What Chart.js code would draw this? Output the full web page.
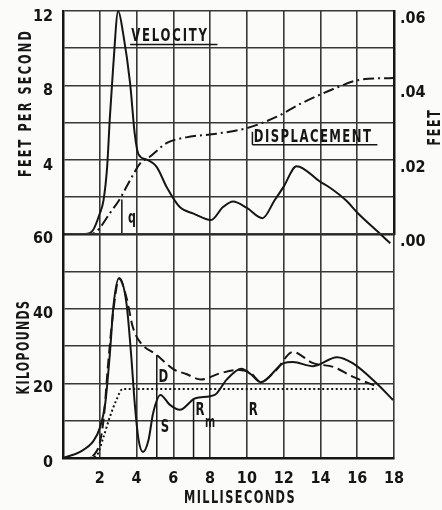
<!DOCTYPE html>
<html>
<head>
<meta charset="utf-8">
<script src="https://cdn.jsdelivr.net/npm/chart.js@4.4.1/dist/chart.umd.min.js"></script>
<style>
  html, body { margin: 0; padding: 0; background: #fbfbfa; }
  #wrap { position: relative; width: 442px; height: 510px; }
  canvas { position: absolute; left: 0; top: 0; }
</style>
</head>
<body>
<div id="wrap">
  <canvas id="topChart" width="442" height="510"></canvas>
  <canvas id="bottomChart" width="442" height="510"></canvas>
</div>
<script>
// top panel: velocity (ft/s) and displacement (ft) vs time (ms)
let velMs  = [0, 1.2, 1.63, 2.0, 2.2, 2.4, 2.55, 2.73, 3.0, 3.27, 3.65, 3.9, 4.1, 4.55, 5.1, 5.65, 6.35, 7.1, 8.05, 8.7, 9.25, 10.0, 10.85, 11.5, 12.0, 12.7, 14.0, 14.5, 15.4, 16.05, 17.2, 17.8];
let velFps = [0, 0, 0.2, 1.1, 1.8, 3.6, 6.3, 9.0, 12.0, 10.8, 8.1, 5.4, 4.3, 4.0, 3.6, 2.5, 1.45, 1.1, 0.75, 1.45, 1.75, 1.4, 0.85, 1.8, 2.55, 3.65, 2.8, 2.5, 1.8, 1.1, 0.05, -0.5];

let dispMs = [0, 1.5, 1.85, 2.55, 3.1, 3.65, 4.2, 4.7, 5.65, 6.7, 8.35, 10.0, 11.6, 12.9, 14.7, 16.15, 17.95];
let dispFt = [0, 0, 0.0008, 0.0056, 0.0095, 0.0145, 0.019, 0.0207, 0.0245, 0.026, 0.027, 0.0285, 0.0315, 0.035, 0.039, 0.0415, 0.042];

let qMs  = [3.2, 3.2];
let qFps = [0, 1.85];

// bottom panel: forces in kilopounds
let sMs  = [0, 0.9, 1.65, 2.0, 2.3, 2.55, 2.75, 3.05, 3.45, 3.7, 3.9, 4.1, 4.35, 4.65, 4.9, 5.3, 5.8, 6.35, 7.2, 8.25, 8.9, 9.7, 10.2, 10.75, 12.0, 12.5, 13.6, 14.9, 15.75, 17.05, 17.95];
let sKip = [0, 1.6, 4.5, 8.0, 14.7, 28, 41, 48.2, 41.5, 28, 14.7, 5.2, 1.6, 4.8, 12, 16.9, 14.3, 12.9, 16.0, 16.9, 21, 23.9, 22.5, 20.3, 25.4, 25.7, 24.6, 27, 25.4, 20, 15.5];

let dMs  = [0, 1.2, 1.85, 2.2, 2.45, 2.75, 3.05, 3.45, 3.8, 4.2, 5.1, 6.0, 6.7, 7.5, 8.55, 9.6, 10.2, 10.75, 11.6, 12.5, 13.6, 14.7, 15.75, 17.05];
let dKip = [0, 0, 2, 10, 25, 40, 48, 43, 35, 31, 27.6, 23.8, 22.5, 21, 22.7, 23.6, 22.8, 20.4, 23.6, 28.4, 25.4, 24.4, 21.8, 19.2];

let rMs  = [1.45, 1.85, 2.2, 2.55, 2.9, 3.25, 17.05];
let rKip = [0, 0.8, 5.6, 11, 15.5, 18.5, 18.5];

let markD  = [[5.1, 0], [5.1, 27.6]];
let markRm = [[7.1, 0], [7.1, 16]];

let xTicks = [2, 4, 6, 8, 10, 12, 14, 16, 18];

let font = "'Liberation Sans Narrow', 'DejaVu Sans Condensed', sans-serif";
Chart.defaults.font.family = font;
Chart.defaults.font.weight = 'bold';
Chart.defaults.font.size = 16;
Chart.defaults.color = '#151515';

let ink = '#161616';
let gridStyle = { color: '#383838', lineWidth: 1.6, drawTicks: false };
let borderStyle = { color: ink, width: 2.5 };
// invisible tick marks act as the gap between axis and labels
let leftGrid = { color: '#383838', lineWidth: 1.6, drawTicks: true, tickLength: 10, tickColor: 'rgba(0,0,0,0)' };

function pts(xs, ys) { return xs.map((x, i) => ({ x: x, y: ys[i] })); }
function pairs(p) { return p.map(v => ({ x: v[0], y: v[1] })); }

function curve(label, data, axis, dash, width) {
  return {
    label: label, data: data, yAxisID: axis,
    borderColor: ink, borderWidth: width || 2, borderDash: dash || [],
    pointRadius: 0, fill: false, cubicInterpolationMode: 'monotone', clip: 12
  };
}

function drawText(ctx, t, px, py) {
  ctx.save();
  ctx.font = 'bold ' + (t.size || 18) + 'px ' + font;
  ctx.letterSpacing = (t.spacing || 0) + 'px';
  ctx.translate(px, py);
  if (t.rot) ctx.rotate(-Math.PI / 2);
  ctx.scale(t.squeeze || 0.72, 1);
  ctx.fillText(t.text, 0, 0);
  ctx.restore();
}

// text and underline notes, placed in data units of the chart's scales
function notesPlugin(notes, rules, titles) {
  return {
    id: 'notes',
    afterDatasetsDraw(chart) {
      let ctx = chart.ctx, sx = chart.scales.x, sy = chart.scales.y;
      ctx.save();
      ctx.fillStyle = ink;
      ctx.strokeStyle = ink;
      ctx.textAlign = 'center';
      ctx.textBaseline = 'middle';
      notes.forEach(n => drawText(ctx, n, sx.getPixelForValue(n.x), sy.getPixelForValue(n.y)));
      ctx.lineWidth = 1.5;
      rules.forEach(r => {
        ctx.beginPath();
        ctx.moveTo(sx.getPixelForValue(r[0][0]), sy.getPixelForValue(r[0][1]));
        ctx.lineTo(sx.getPixelForValue(r[1][0]), sy.getPixelForValue(r[1][1]));
        ctx.stroke();
      });
      titles.forEach(t => drawText(ctx, t, t.px, t.py));
      ctx.restore();
    }
  };
}

let topNotes = [
  { text: 'VELOCITY', x: 5.82, y: 10.66, spacing: 2.5 },
  { text: 'DISPLACEMENT', x: 13.6, y: 5.2, spacing: 2 },
  { text: 'q', x: 3.75, y: 0.85, size: 17 }
];
let topRules = [
  [[3.65, 10.2], [8.4, 10.2]],
  [[10.3, 4.8], [17.1, 4.8]],
  [[10.3, 4.8], [10.3, 5.5]]
];
let topTitles = [
  { text: 'FEET PER SECOND', px: 26, py: 103, rot: true, spacing: 3, squeeze: 0.7 },
  { text: 'FEET', px: 435, py: 127, rot: true, spacing: 2.5, squeeze: 0.68 }
];

let bottomNotes = [
  { text: 'D', x: 5.45, y: 21.7 },
  { text: 'S', x: 5.55, y: 8.3 },
  { text: 'R', x: 7.45, y: 12.9 },
  { text: 'm', x: 8.0, y: 9.4, size: 15 },
  { text: 'R', x: 10.35, y: 12.9 }
];
let bottomTitles = [
  { text: 'KILOPOUNDS', px: 24, py: 347, rot: true, spacing: 2, squeeze: 0.68 },
  { text: 'MILLISECONDS', px: 240, py: 498, spacing: 2, squeeze: 0.7 }
];

new Chart(document.getElementById('topChart'), {
  type: 'line',
  data: {
    datasets: [
      curve('Velocity', pts(velMs, velFps), 'y'),
      curve('Displacement', pts(dispMs, dispFt), 'yFeet', [11, 4, 2, 4]),
      curve('q', pts(qMs, qFps), 'y', [], 1.5)
    ]
  },
  options: {
    responsive: false,
    animation: false,
    layout: { padding: { top: 11, bottom: 276, left: 0, right: 0 } },
    plugins: { legend: { display: false }, tooltip: { enabled: false } },
    scales: {
      x: {
        type: 'linear', min: 0, max: 18,
        ticks: { stepSize: 2, display: false },
        grid: gridStyle, border: borderStyle,
        afterFit: s => { s.height = 0; }
      },
      y: {
        position: 'left', min: 0, max: 12,
        ticks: { stepSize: 2, padding: 0, labelOffset: 6, callback: v => (v > 0 && v % 4 === 0) ? v : '' },
        grid: leftGrid, border: borderStyle,
        afterFit: s => { s.width = 63; }
      },
      yFeet: {
        position: 'right', min: 0, max: 0.06,
        ticks: { stepSize: 0.02, padding: 0, labelOffset: 8, callback: v => v.toFixed(2).replace(/^0/, '') },
        grid: { drawOnChartArea: false, drawTicks: true, tickLength: 6, tickColor: 'rgba(0,0,0,0)' },
        border: borderStyle,
        afterFit: s => { s.width = 48; }
      }
    }
  },
  plugins: [notesPlugin(topNotes, topRules, topTitles)]
});

new Chart(document.getElementById('bottomChart'), {
  type: 'line',
  data: {
    datasets: [
      curve('S', pts(sMs, sKip), 'y'),
      curve('D', pts(dMs, dKip), 'y', [10, 5]),
      curve('R', pts(rMs, rKip), 'y', [2, 2.5]),
      curve('D mark', pairs(markD), 'y', [], 1.5),
      curve('Rm mark', pairs(markRm), 'y', [], 1.5)
    ]
  },
  options: {
    responsive: false,
    animation: false,
    layout: { padding: { top: 234, bottom: 0, left: 0, right: 48 } },
    plugins: { legend: { display: false }, tooltip: { enabled: false } },
    scales: {
      x: {
        type: 'linear', min: 0, max: 18,
        afterBuildTicks: s => { s.ticks = [0].concat(xTicks).map(v => ({ value: v })); },
        ticks: { padding: 11, callback: v => v === 0 ? '' : v },
        grid: gridStyle, border: borderStyle,
        afterFit: s => { s.height = 52; }
      },
      y: {
        min: 0, max: 60,
        ticks: { stepSize: 10, padding: 0, labelOffset: 5, callback: v => v % 20 === 0 ? v : '' },
        grid: leftGrid, border: borderStyle,
        afterFit: s => { s.width = 63; }
      }
    }
  },
  plugins: [notesPlugin(bottomNotes, [], bottomTitles)]
});
</script>
</body>
</html>
